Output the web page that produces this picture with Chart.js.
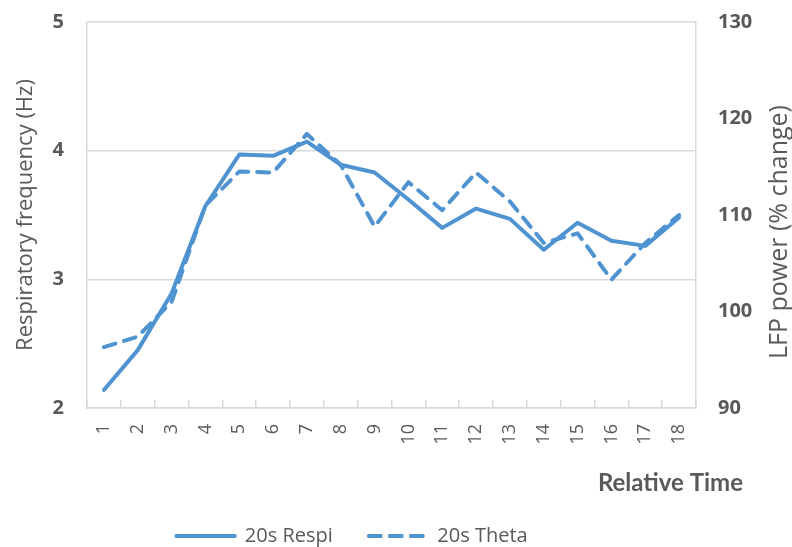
<!DOCTYPE html>
<html>
<head>
<meta charset="utf-8">
<script src="https://cdn.jsdelivr.net/npm/chart.js@4.4.1/dist/chart.umd.min.js"></script>
<style>
	html, body { margin: 0; padding: 0; background: #fff; }
	#chart-parent { width: 792px; height: 547px; }
</style>
</head>
<body>
<div id="chart-parent"><canvas id="chart" width="792" height="547"></canvas></div>
<script>
	var timeLabels = ['1', '2', '3', '4', '5', '6', '7', '8', '9', '10', '11', '12', '13', '14', '15', '16', '17', '18'];
	// respiration rate, Hz (left axis)
	var respiHz = [2.14, 2.45, 2.89, 3.57, 3.97, 3.96, 4.07, 3.89, 3.83, 3.62, 3.40, 3.55, 3.47, 3.23, 3.44, 3.30, 3.26, 3.48];
	// theta LFP power, % change (right axis)
	var thetaPct = [96.3, 97.4, 101.0, 111.0, 114.5, 114.4, 118.4, 115.2, 108.8, 113.4, 110.5, 114.4, 111.4, 107.1, 108.1, 103.3, 107.1, 110.0];
	var seriesNames = ['20s Respi', '20s Theta'];

	var textColor = '#595959';
	var gridColor = '#d9d9d9';
	var lineColor = '#4f93d1';

	// right axis title reads bottom-to-top, and the x title sits past the plot edge
	var captions = {
		id: 'captions',
		afterDraw: function(chart) {
			var ctx = chart.ctx;
			var area = chart.chartArea;
			ctx.save();
			ctx.fillStyle = textColor;
			ctx.textBaseline = 'middle';
			ctx.textAlign = 'right';
			ctx.font = 'bold 24px Lato';
			ctx.fillText('Relative Time', area.right + 47, area.bottom + 75);
			ctx.translate(area.right + 84, (area.top + area.bottom) / 2 + 17);
			ctx.rotate(-Math.PI / 2);
			ctx.textAlign = 'center';
			ctx.font = '25px "Open Sans"';
			ctx.fillText('LFP power (% change)', 0, 0);
			ctx.restore();
		}
	};

	// move the legend row left and down under the axis labels
	var legendPlace = {
		id: 'legendPlace',
		afterLayout: function(chart) {
			var lg = chart.legend;
			var h = lg.bottom - lg.top;
			lg.left -= 44;
			lg.right -= 44;
			lg.top = 490;
			lg.bottom = lg.top + h;
		}
	};

	// tick padding would otherwise push the plot top down
	function fixWidth(w) {
		return function(s) {
			s.width = w;
			s.paddingTop = 0;
			s.paddingBottom = 0;
		};
	}

	new Chart(document.getElementById('chart'), {
		type: 'line',
		data: {
			labels: timeLabels,
			datasets: [{
				label: seriesNames[0],
				data: respiHz,
				yAxisID: 'yL',
				borderColor: lineColor,
				backgroundColor: lineColor,
				borderWidth: 4,
				borderCapStyle: 'round',
				borderJoinStyle: 'round',
				pointRadius: 0,
				tension: 0
			}, {
				label: seriesNames[1],
				data: thetaPct,
				yAxisID: 'yR',
				borderColor: lineColor,
				backgroundColor: lineColor,
				borderWidth: 4,
				borderDash: [12, 9],
				borderCapStyle: 'round',
				borderJoinStyle: 'round',
				pointRadius: 0,
				tension: 0
			}]
		},
		options: {
			responsive: false,
			animation: false,
			devicePixelRatio: 1,
			layout: { padding: { top: 22, left: 0, right: 0, bottom: 0 } },
			plugins: {
				tooltip: { enabled: false },
				legend: {
					position: 'bottom',
					align: 'center',
					labels: {
						// flat box: a zero-height rect stroked with the series dash
						boxWidth: 58.5,
						boxHeight: 0,
						padding: 36,
						color: textColor,
						font: { family: 'Open Sans', size: 20 }
					}
				}
			},
			scales: {
				x: {
					type: 'category',
					offset: true,
					grid: {
						display: true,
						drawOnChartArea: false,
						drawTicks: true,
						tickLength: -8,
						color: gridColor,
						lineWidth: 1.5,
						offset: true
					},
					border: { display: true, color: gridColor, width: 1.5 },
					ticks: {
						autoSkip: false,
						minRotation: 90,
						maxRotation: 90,
						padding: 24,
						color: textColor,
						font: { family: 'Open Sans', size: 18 }
					},
					afterFit: function(s) {
						var lh = s.chart.legend ? s.chart.legend.height : 0;
						s.height = 547 - 408 - lh;
					}
				},
				yL: {
					position: 'left',
					min: 2,
					max: 5,
					ticks: {
						stepSize: 1,
						padding: 23,
						color: textColor,
						font: { family: 'Open Sans', size: 20, weight: 'bold' }
					},
					grid: { color: gridColor, lineWidth: 1.5, drawTicks: false },
					border: { display: true, color: gridColor, width: 1.5 },
					title: {
						display: true,
						text: 'Respiratory frequency (Hz)',
						color: textColor,
						font: { family: 'Open Sans', size: 22 },
						padding: { top: 13, bottom: 0 }
					},
					afterFit: fixWidth(87)
				},
				yR: {
					position: 'right',
					min: 90,
					max: 130,
					ticks: {
						stepSize: 10,
						padding: 22,
						color: textColor,
						font: { family: 'Open Sans', size: 20, weight: 'bold' }
					},
					grid: { drawOnChartArea: false, drawTicks: false },
					border: { display: true, color: gridColor, width: 1.5 },
					afterFit: fixWidth(96)
				}
			}
		},
		plugins: [captions, legendPlace]
	});
</script>
</body>
</html>
